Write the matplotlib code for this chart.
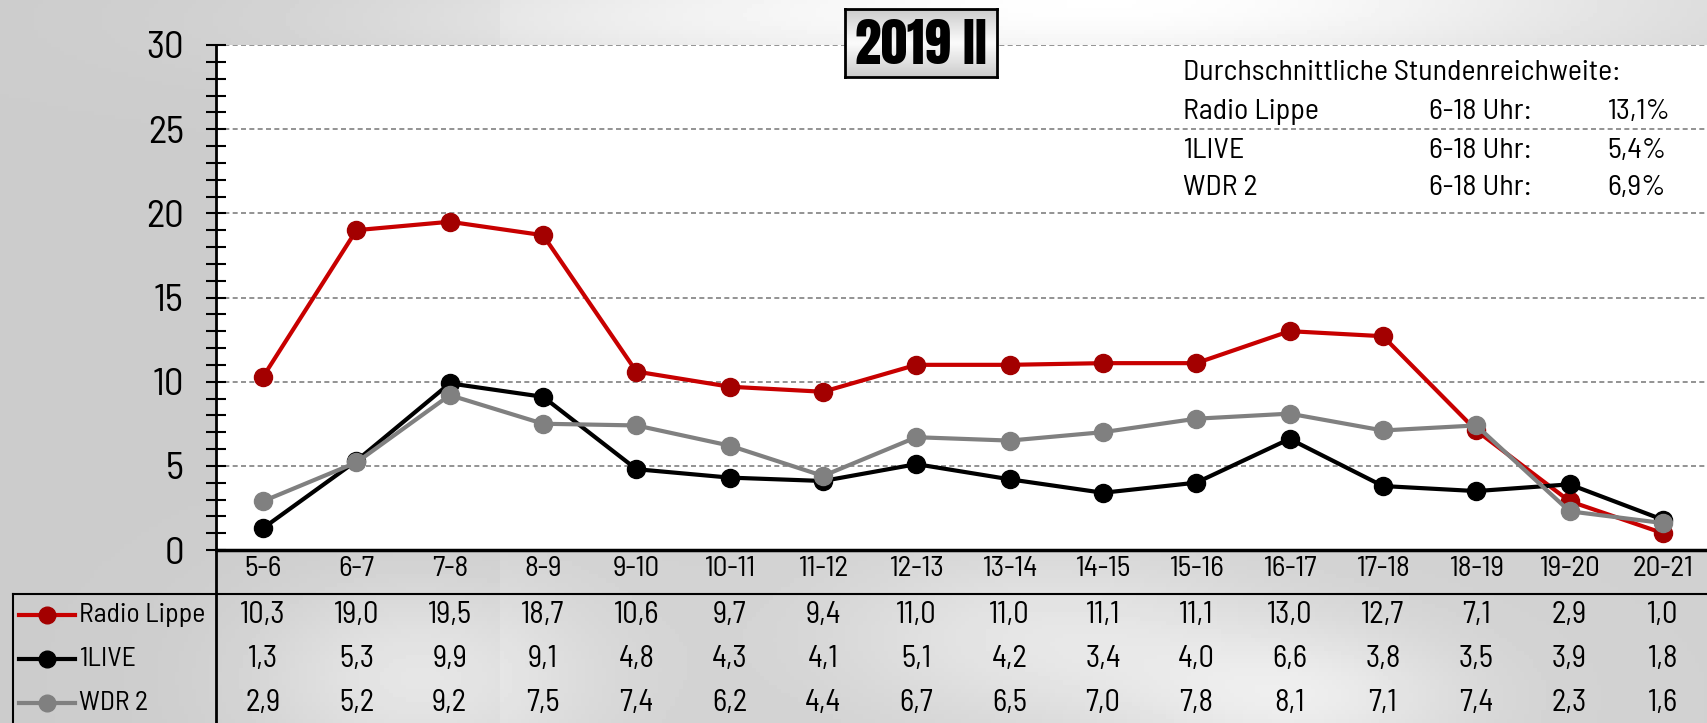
import numpy as np
import matplotlib
matplotlib.use("Agg")
import matplotlib.pyplot as plt
from matplotlib.lines import Line2D
from matplotlib.transforms import blended_transform_factory

# data
stunden = ["5-6", "6-7", "7-8", "8-9", "9-10", "10-11", "11-12", "12-13",
           "13-14", "14-15", "15-16", "16-17", "17-18", "18-19", "19-20", "20-21"]
radio_lippe = [10.3, 19.0, 19.5, 18.7, 10.6, 9.7, 9.4, 11.0, 11.0, 11.1, 11.1, 13.0, 12.7, 7.1, 2.9, 1.0]
einslive = [1.3, 5.3, 9.9, 9.1, 4.8, 4.3, 4.1, 5.1, 4.2, 3.4, 4.0, 6.6, 3.8, 3.5, 3.9, 1.8]
wdr2 = [2.9, 5.2, 9.2, 7.5, 7.4, 6.2, 4.4, 6.7, 6.5, 7.0, 7.8, 8.1, 7.1, 7.4, 2.3, 1.6]

sender = ["Radio Lippe", "1LIVE", "WDR 2"]
schnitt = ["13,1%", "5,4%", "6,9%"]
titel = "2019 II"

plt.rcParams["font.family"] = ["Barlow Semi Condensed", "DejaVu Sans"]
titel_font = ["Anton", "Bebas Neue", "DejaVu Sans"]

W, H = 1708, 723
fig = plt.figure(figsize=(W / 100, H / 100), dpi=100)


def fx(px):
    return px / W


def fy(py):
    return 1 - py / H


# grey background with a few light spots
bg = fig.add_axes([0, 0, 1, 1], zorder=-10)
gx, gy = np.meshgrid(np.linspace(0, W, 400), np.linspace(0, H, 170))
shade = 0.80 + 0.02 * (gx > 500)
for cx, cy, sx, sy, a in [(1150, 0, 350, 60, 0.17), (420, 680, 120, 70, 0.10),
                          (1050, 640, 150, 60, 0.08), (1300, 700, 120, 50, 0.10),
                          (620, 20, 250, 40, 0.06)]:
    shade = shade + a * np.exp(-((gx - cx) ** 2 / (2 * sx ** 2) + (gy - cy) ** 2 / (2 * sy ** 2)))
bg.imshow(np.clip(shade, 0, 1), cmap="gray", vmin=0, vmax=1, aspect="auto", extent=[0, W, H, 0])
bg.axis("off")

# main chart area
ax = fig.add_axes([fx(216.5), fy(550), fx(1493), fy(45) - fy(550)])
ax.set_facecolor("white")
x = np.arange(len(stunden))

ax.plot(x, radio_lippe, color="#c80000", lw=3, marker="o", ms=13,
        mfc="#a30000", mec="#a30000", zorder=3)
ax.plot(x, einslive, color="black", lw=3, marker="o", ms=13, zorder=4)
ax.plot(x, wdr2, color="#808080", lw=3, marker="o", ms=13, zorder=5)

ax.set_xlim(-0.5, 15.5)
ax.set_ylim(0, 30)
ax.set_yticks(range(0, 31, 5))
ax.set_yticks(range(0, 31, 1), minor=True)
ax.yaxis.grid(True, which="major", ls=(0, (3, 2)), color="#808080", lw=1.2)
ax.set_axisbelow(True)
ax.set_xticks(x)
ax.set_xticklabels(stunden, fontsize=21)
ax.tick_params(axis="x", length=0, pad=4)
ax.tick_params(axis="y", which="major", direction="inout", length=15, width=1.5,
               labelsize=28, pad=16)
ax.tick_params(axis="y", which="minor", direction="inout", length=14, width=1.5)
for s in ["top", "right"]:
    ax.spines[s].set_visible(False)
ax.spines["left"].set_linewidth(2)
ax.spines["bottom"].set_linewidth(2.5)
ax.spines["bottom"].set_zorder(6)

# data table under the chart
trans = blended_transform_factory(ax.transData, fig.transFigure)
zeilen_y = [615, 659, 703]
farben = ["#c80000", "black", "#808080"]
marker_farben = ["#a30000", "black", "#808080"]
for werte, yy in zip([radio_lippe, einslive, wdr2], zeilen_y):
    for i, v in enumerate(werte):
        fig.text(i, fy(yy), f"{v:.1f}".replace(".", ","), transform=trans,
                 ha="center", va="center", fontsize=22)

for name, yy, c, mc in zip(sender, zeilen_y, farben, marker_farben):
    fig.add_artist(Line2D([fx(19), fx(75)], [fy(yy), fy(yy)], color=c, lw=3,
                          transform=fig.transFigure))
    fig.add_artist(Line2D([fx(47)], [fy(yy)], color=mc, marker="o", ms=12,
                          transform=fig.transFigure))
    fig.text(fx(79), fy(yy), name, ha="left", va="center", fontsize=20)

fig.add_artist(Line2D([fx(13), fx(1708)], [fy(594), fy(594)], color="black", lw=1.5))
fig.add_artist(Line2D([fx(13), fx(13)], [fy(594), 0], color="black", lw=1.5))
fig.add_artist(Line2D([fx(216.5), fx(216.5)], [fy(550), 0], color="black", lw=2))

# average reach text, top right
fig.text(fx(1183), fy(73), "Durchschnittliche Stundenreichweite:", ha="left",
         va="center", fontsize=21.5)
for name, wert, yy in zip(sender, schnitt, [112, 151, 188]):
    fig.text(fx(1183), fy(yy), name, ha="left", va="center", fontsize=21.5)
    fig.text(fx(1429), fy(yy), "6-18 Uhr:", ha="left", va="center", fontsize=21.5)
    fig.text(fx(1607), fy(yy), wert, ha="left", va="center", fontsize=21.5)

# title box with metallic gradient
tb = fig.add_axes([fx(845), fy(77), fx(997) - fx(845), fy(9) - fy(77)], zorder=10)
grad = np.concatenate([np.linspace(0.80, 0.98, 20), np.linspace(0.98, 0.80, 20)])
tb.imshow(grad[:, None], cmap="gray", vmin=0, vmax=1, aspect="auto", extent=[0, 1, 0, 1])
tb.set_xticks([])
tb.set_yticks([])
for s in tb.spines.values():
    s.set_linewidth(2)
tb.text(0.5, 0.48, titel, ha="center", va="center", fontsize=38,
        family=titel_font, transform=tb.transAxes)

fig.savefig("out.png", dpi=100)
